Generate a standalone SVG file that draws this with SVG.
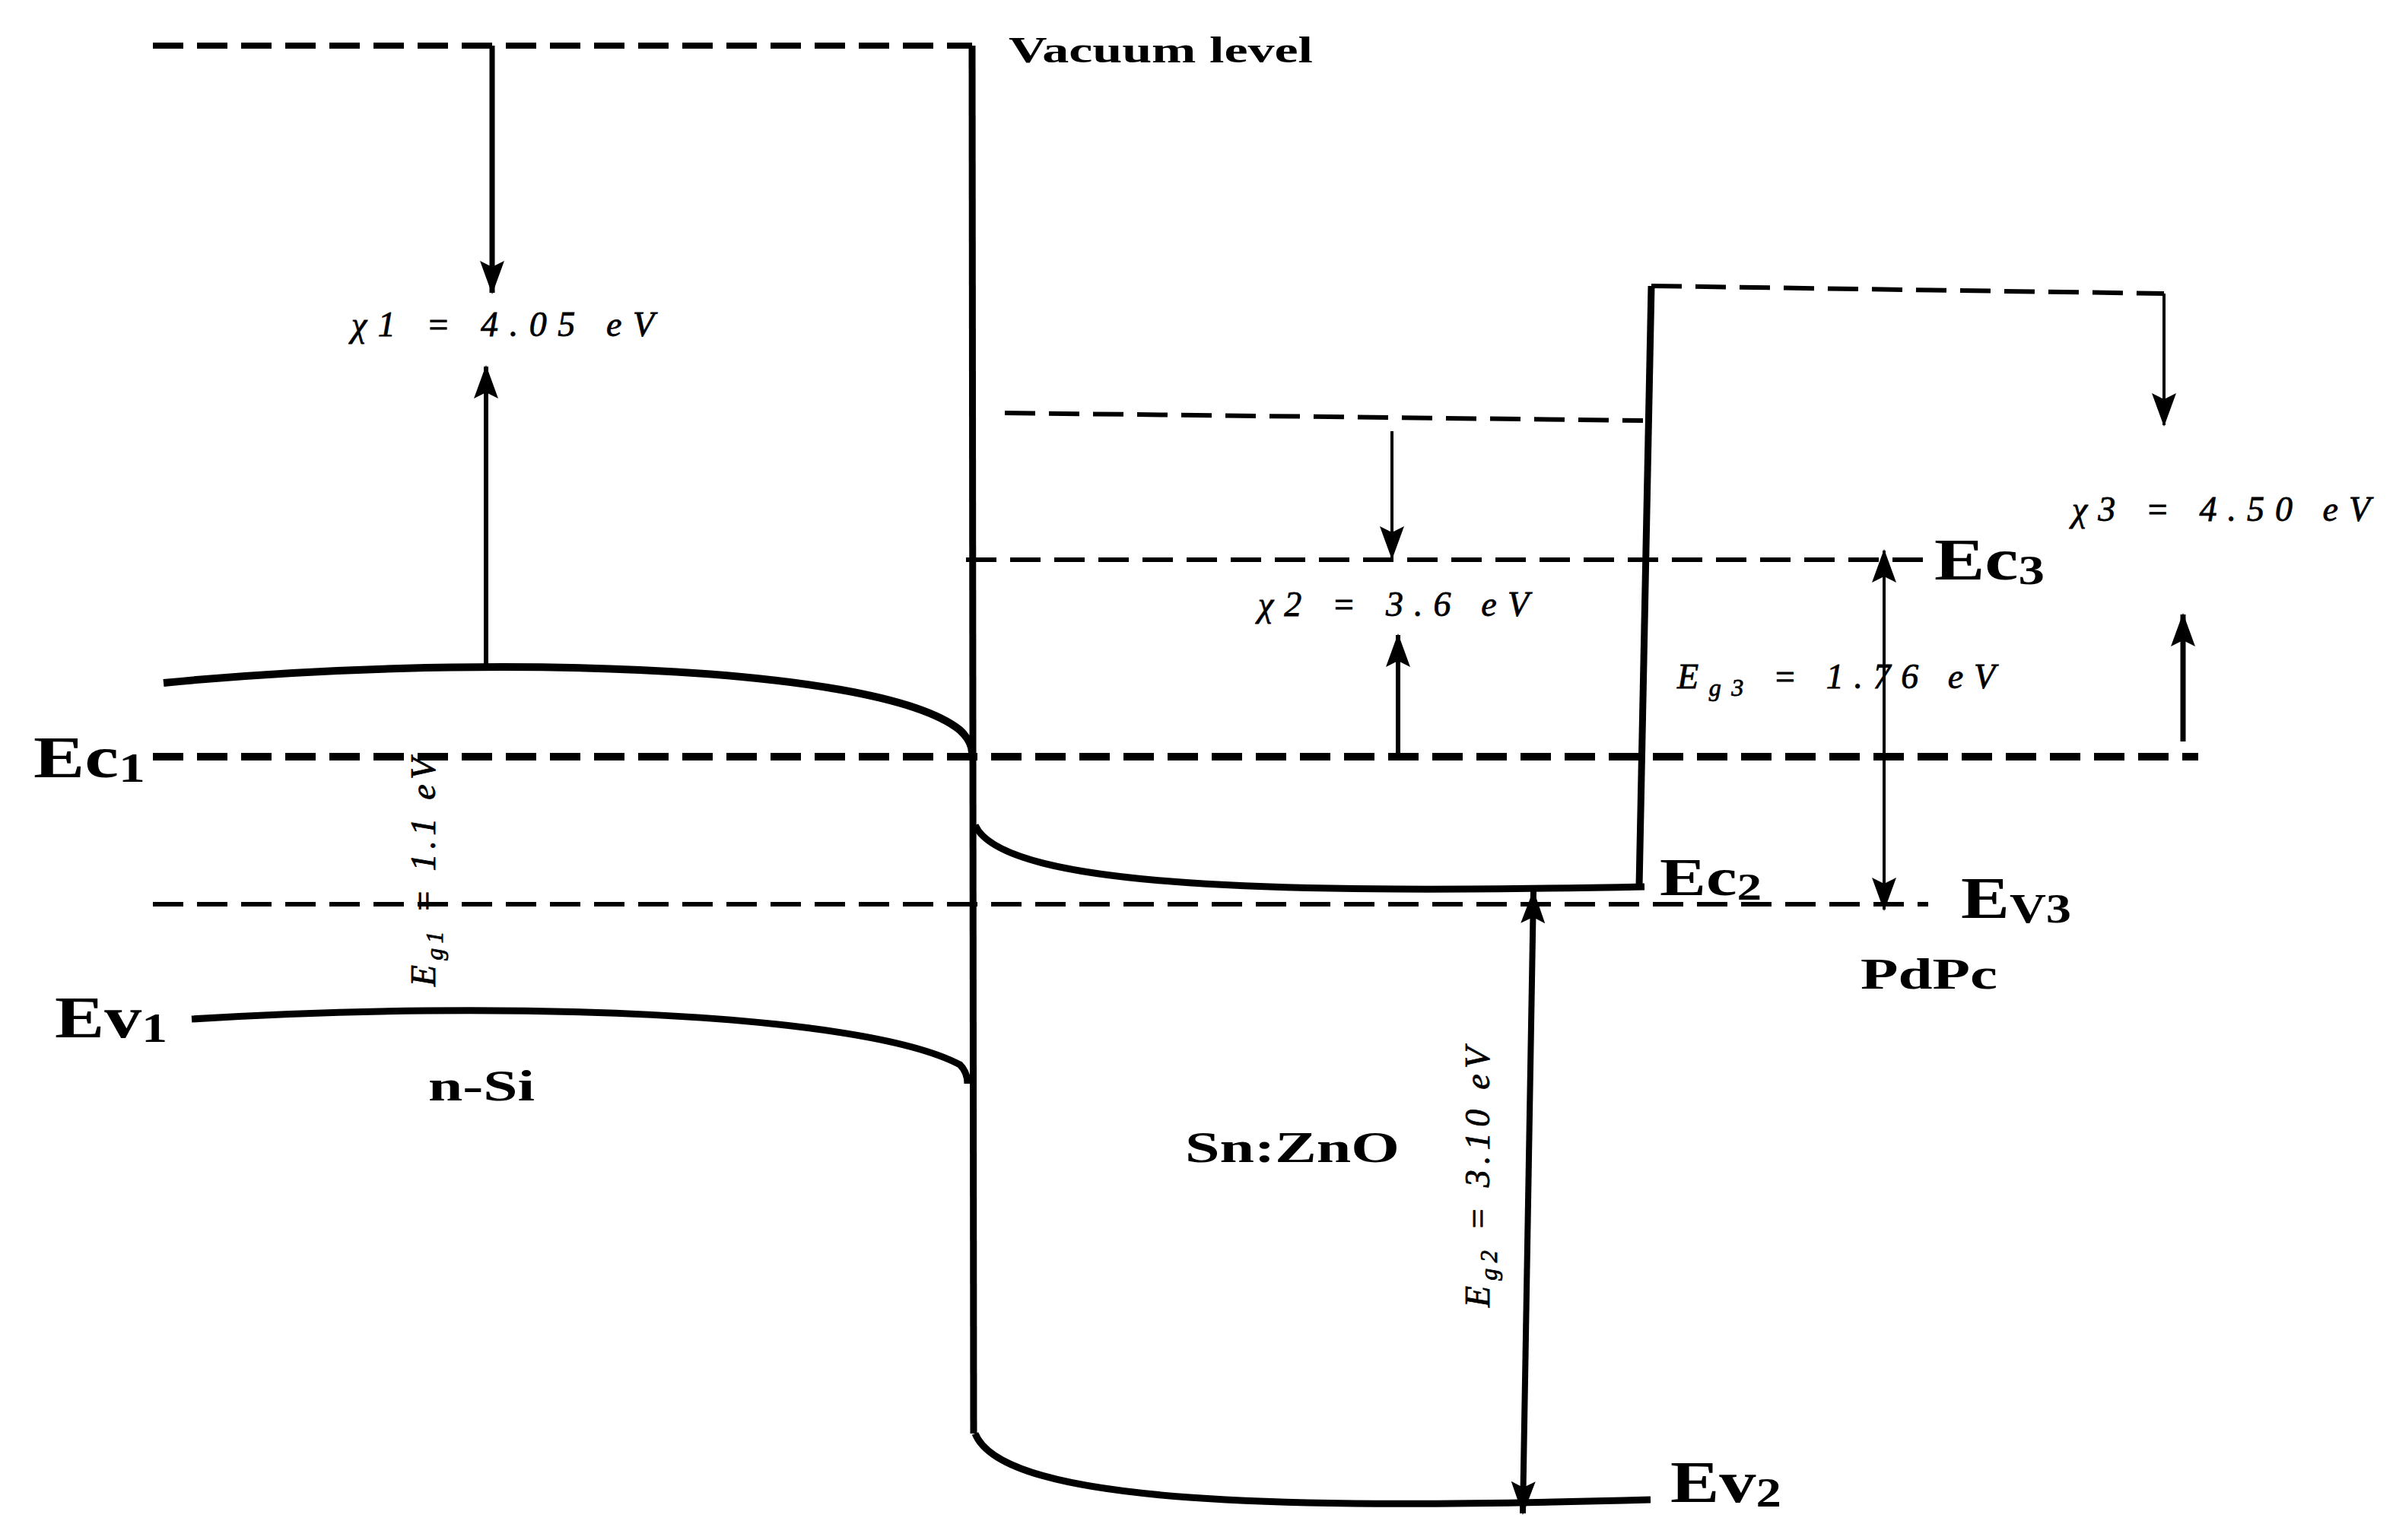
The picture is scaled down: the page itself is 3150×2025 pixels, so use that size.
<svg xmlns="http://www.w3.org/2000/svg" width="3150" height="2025" viewBox="0 0 3150 2025">
<style>
.d{fill:none;stroke:#000;stroke-dasharray:40,18}
.s{fill:none;stroke:#000}
.lab{font-family:"Liberation Serif",serif;font-weight:bold;fill:#000}
.m{font-family:"Liberation Serif",serif;font-style:italic;font-size:46px;fill:#000;stroke:#000;stroke-width:0.8}
</style>
<defs>
<marker id="ar" markerUnits="userSpaceOnUse" markerWidth="44" markerHeight="32" refX="42" refY="16" orient="auto-start-reverse" viewBox="0 0 44 32">
<path d="M0,0 L44,16 L0,32 L8,16 Z" fill="#000"/>
</marker>
</defs>
<rect width="3150" height="2025" fill="#fff"/>
<g id="connectors">
<line class="d" x1="201" y1="60" x2="1278" y2="60" stroke-width="8"/>
<line class="d" x1="201" y1="995" x2="2890" y2="995" stroke-width="10"/>
<line class="d" x1="201" y1="1189" x2="2535" y2="1189" stroke-width="6"/>
<line class="d" x1="1321" y1="543" x2="2160" y2="553" stroke-width="6"/>
<line class="d" x1="1270" y1="736" x2="2537" y2="736" stroke-width="6"/>
<line class="d" x1="2171" y1="376" x2="2845" y2="386" stroke-width="6"/>
<path class="s" stroke-width="9" d="M1278,60 L1280,1885"/>
<path class="s" stroke-width="9" d="M2171,376 L2155,1166"/>
<path class="s" stroke-width="10" d="M215,898 C600,860 1150,870 1262,960 Q1278,975 1278,990"/>
<path class="s" stroke-width="9" d="M252,1340 C650,1315 1130,1330 1262,1400 Q1272,1410 1272,1425"/>
<path class="s" stroke-width="9" d="M1282,1085 C1320,1170 1700,1175 2162,1166"/>
<path class="s" stroke-width="9" d="M1282,1885 C1320,1980 1700,1985 2170,1972"/>
<line class="s" stroke-width="7" x1="647" y1="60" x2="647" y2="385" marker-end="url(#ar)"/>
<line class="s" stroke-width="6" x1="639" y1="880" x2="639" y2="482" marker-end="url(#ar)"/>
<line class="s" stroke-width="4" x1="1830" y1="567" x2="1830" y2="734" marker-end="url(#ar)"/>
<line class="s" stroke-width="6" x1="1838" y1="995" x2="1838" y2="835" marker-end="url(#ar)"/>
<line class="s" stroke-width="4" x1="2845" y1="386" x2="2845" y2="559" marker-end="url(#ar)"/>
<line class="s" stroke-width="7" x1="2870" y1="975" x2="2870" y2="808" marker-end="url(#ar)"/>
<line class="s" stroke-width="4" x1="2477" y1="724" x2="2477" y2="1196" marker-start="url(#ar)" marker-end="url(#ar)"/>
<line class="s" stroke-width="8" x1="2016" y1="1172" x2="2002" y2="1990" marker-start="url(#ar)" marker-end="url(#ar)"/>
</g>
<g id="labels">
<text class="lab" x="1326" y="82" font-size="48" textLength="400" lengthAdjust="spacingAndGlyphs">Vacuum level</text>
<text class="lab" x="44" y="1022" font-size="78" textLength="147" lengthAdjust="spacingAndGlyphs">Ec<tspan font-size="54" dy="6">1</tspan></text>
<text class="lab" x="72" y="1364" font-size="78" textLength="148" lengthAdjust="spacingAndGlyphs">Ev<tspan font-size="54" dy="6">1</tspan></text>
<text class="lab" x="2182" y="1177" font-size="70" textLength="134" lengthAdjust="spacingAndGlyphs">Ec<tspan font-size="50" dy="6">2</tspan></text>
<text class="lab" x="2196" y="1975" font-size="78" textLength="146" lengthAdjust="spacingAndGlyphs">Ev<tspan font-size="54" dy="6">2</tspan></text>
<text class="lab" x="2543" y="762" font-size="78" textLength="145" lengthAdjust="spacingAndGlyphs">Ec<tspan font-size="54" dy="6">3</tspan></text>
<text class="lab" x="2578" y="1207" font-size="78" textLength="145" lengthAdjust="spacingAndGlyphs">E<tspan font-size="54" dy="6">V3</tspan></text>
<text class="lab" x="563" y="1447" font-size="56" textLength="140" lengthAdjust="spacingAndGlyphs">n-Si</text>
<text class="lab" x="1558" y="1528" font-size="58" textLength="282" lengthAdjust="spacingAndGlyphs">Sn:ZnO</text>
<text class="lab" x="2446" y="1300" font-size="56" textLength="180" lengthAdjust="spacingAndGlyphs">PdPc</text>
<text class="m" x="462" y="442" textLength="398" lengthAdjust="spacing">χ1 = 4.05 eV</text>
<text class="m" x="1654" y="810" textLength="356" lengthAdjust="spacing">χ2 = 3.6 eV</text>
<text class="m" x="2724" y="685" textLength="392" lengthAdjust="spacing">χ3 = 4.50 eV</text>
<text class="m" x="2205" y="905" textLength="418" lengthAdjust="spacing">E<tspan font-size="32" dy="10">g3</tspan><tspan dy="-10"> = 1.76 eV</tspan></text>
<text class="m" transform="translate(572,1297) rotate(-90)" textLength="300" lengthAdjust="spacing">E<tspan font-size="32" dy="10">g1</tspan><tspan dy="-10"> = 1.1 eV</tspan></text>
<text class="m" transform="translate(1958,1719) rotate(-90)" textLength="342" lengthAdjust="spacing">E<tspan font-size="32" dy="10">g2</tspan><tspan dy="-10"> = 3.10 eV</tspan></text>
</g>
</svg>
